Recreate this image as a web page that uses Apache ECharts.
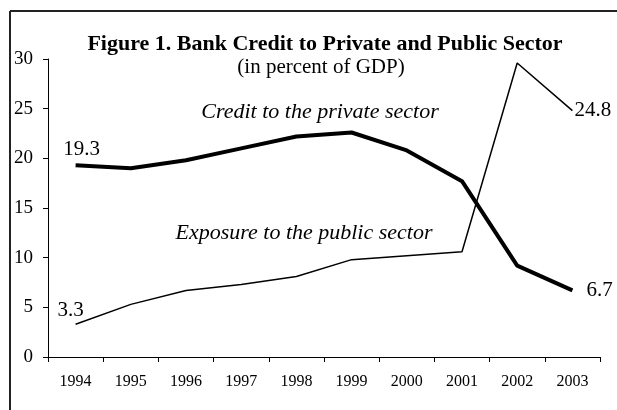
<!DOCTYPE html>
<html><head><meta charset="utf-8">
<script src="https://cdn.jsdelivr.net/npm/echarts@6/dist/echarts.min.js"></script>
<style>html,body{margin:0;padding:0;background:#fff}#c{width:617px;height:410px}</style>
</head><body><div id="c"></div>
<script>
const years = ['1994','1995','1996','1997','1998','1999','2000','2001','2002','2003'];
const privateCredit = [19.3, 19.0, 19.8, 21.0, 22.2, 22.6, 20.8, 17.7, 9.2, 6.7];
const publicExposure = [3.3, 5.3, 6.7, 7.3, 8.1, 9.8, 10.2, 10.6, 29.6, 24.8];
const yTicks = [0, 5, 10, 15, 20, 25, 30];
const titleText = 'Figure 1. Bank Credit to Private and Public Sector';
const subtitleText = '(in percent of GDP)';
const privateName = 'Credit to the private sector';
const publicName = 'Exposure to the public sector';

const serif = '"Liberation Serif", "Times New Roman", serif';
const last = years.length - 1;

function buildData(values, firstLabel, lastLabel) {
  return values.map((v, i) => {
    if (i === 0) return { value: v, label: Object.assign({ show: true }, firstLabel) };
    if (i === last) return { value: v, label: Object.assign({ show: true }, lastLabel) };
    return v;
  });
}
const lblStyle = { color: '#000', fontFamily: serif, fontSize: 21, formatter: p => p.value.toFixed(1) };

const chart = echarts.init(document.getElementById('c'), null, { renderer: 'canvas' });
chart.setOption({
  animation: false,
  backgroundColor: '#fff',
  title: [
    { text: titleText, left: 320, top: 28, textAlign: 'center',
      textStyle: { fontFamily: serif, fontWeight: 'bold', fontSize: 22, lineHeight: 22, color: '#000' } },
    { text: subtitleText, left: 316, top: 52, textAlign: 'center',
      textStyle: { fontFamily: serif, fontWeight: 'normal', fontSize: 21, lineHeight: 21, color: '#000' } }
  ],
  grid: { left: 48, right: 17, top: 59, bottom: 53 },
  xAxis: {
    type: 'category', data: years, boundaryGap: true,
    axisLine: { lineStyle: { color: '#000', width: 1 } },
    axisTick: { show: true, length: 5, lineStyle: { color: '#000' } },
    axisLabel: { color: '#000', fontFamily: serif, fontSize: 16, margin: 17 },
    splitLine: { show: false }
  },
  yAxis: {
    type: 'value', min: yTicks[0], max: yTicks[yTicks.length - 1], interval: yTicks[1] - yTicks[0],
    axisLine: { show: true, lineStyle: { color: '#000', width: 1 } },
    axisTick: { show: true, length: 5, lineStyle: { color: '#000' } },
    axisLabel: { color: '#000', fontFamily: serif, fontSize: 19, margin: 15 },
    splitLine: { show: false }
  },
  series: [
    { name: privateName, type: 'line', symbol: 'circle', symbolSize: 0.1,
      itemStyle: { color: '#000' }, lineStyle: { color: '#000', width: 4 },
      label: lblStyle,
      data: buildData(privateCredit,
        Object.assign({}, lblStyle, { position: 'top', distance: 5, offset: [6, 0] }),
        Object.assign({}, lblStyle, { position: 'right', distance: 14 })) },
    { name: publicName, type: 'line', symbol: 'circle', symbolSize: 0.1,
      itemStyle: { color: '#000' }, lineStyle: { color: '#000', width: 1.5 },
      label: lblStyle,
      data: buildData(publicExposure,
        Object.assign({}, lblStyle, { position: 'top', distance: 3, offset: [-5, 0] }),
        Object.assign({}, lblStyle, { position: 'right', distance: 2 })) }
  ],
  graphic: [
    { type: 'line', shape: { x1: 10, y1: 11, x2: 10, y2: 410 }, style: { stroke: '#222', lineWidth: 2 } },
    { type: 'line', shape: { x1: 10, y1: 11, x2: 617, y2: 11 }, style: { stroke: '#222', lineWidth: 2 } },
    { type: 'text', x: 320, y: 112, style: { text: privateName, fill: '#000', font: 'italic 22px ' + serif, textAlign: 'center', textVerticalAlign: 'middle' } },
    { type: 'text', x: 304, y: 233, style: { text: publicName, fill: '#000', font: 'italic 22px ' + serif, textAlign: 'center', textVerticalAlign: 'middle' } }
  ]
});
</script></body></html>
